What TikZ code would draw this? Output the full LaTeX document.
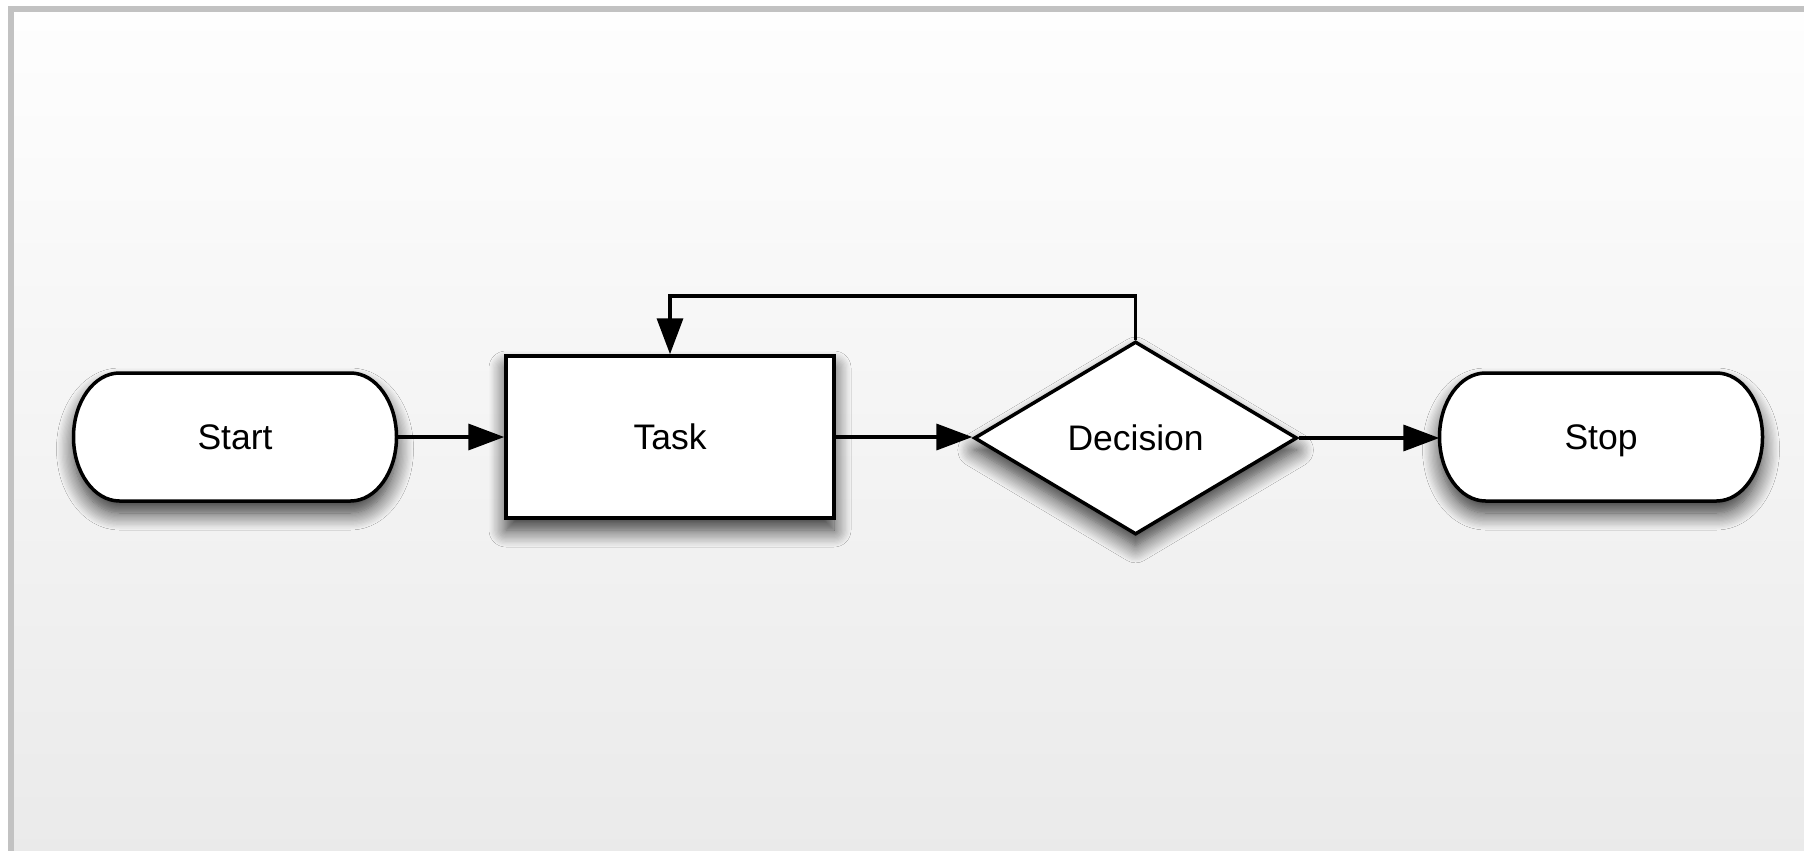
\documentclass[tikz,border=0pt]{standalone}
\usepackage{fontspec}
\setmainfont{Liberation Sans}
\usetikzlibrary{shapes.geometric,arrows.meta,shadows.blur}
\definecolor{framegray}{HTML}{C2C2C2}
\definecolor{bgtop}{HTML}{FEFEFE}
\definecolor{bgbot}{HTML}{EAEAEA}
\tikzset{
  myshadow/.style={blur shadow={shadow xshift=0pt, shadow yshift=-12pt,
     shadow blur radius=17pt, shadow blur steps=14, shadow opacity=80}},
  labeltext/.style={font=\fontsize{35.5}{40}\selectfont, text height=25.5pt, text depth=0pt},
  shapebase/.style={labeltext, draw=black, line width=3.5pt, fill=white, myshadow},
  terminal/.style={labeltext, rectangle, minimum width=323pt, minimum height=128pt, inner sep=0pt},
  termoutline/.style={draw=black, line width=3.5pt, fill=white, myshadow},
  taskbox/.style={shapebase, rectangle, minimum width=328pt, minimum height=162pt, inner sep=0pt},
  decisionbox/.style={shapebase, diamond, minimum width=323pt, minimum height=193pt, inner sep=0pt},
  conn/.style={line width=3.5pt, draw=black, opacity=1, fill opacity=1, draw opacity=1,
     -{Triangle[length=36pt,width=26pt,fill=black]}}
}
\newcommand{\termshape}[1]{%
  \path[termoutline] ([shift={(-115.5pt,64pt)}]#1) -- ([shift={(115.5pt,64pt)}]#1)
    arc[start angle=90, end angle=-90, x radius=46pt, y radius=64pt]
    -- ([shift={(-115.5pt,-64pt)}]#1)
    arc[start angle=270, end angle=90, x radius=46pt, y radius=64pt] -- cycle;}
\begin{document}
\begin{tikzpicture}[x=1pt,y=-1pt]
\useasboundingbox (0,0) rectangle (1804,851);
\fill[white] (0,0) rectangle (1804,851);
\shade[top color=bgtop, bottom color=bgbot] (11,9) rectangle (1810,860);
\draw[framegray, line width=5.5pt] (11,860) -- (11,9) -- (1810,9);

\coordinate (startC) at (235,437);
\coordinate (stopC) at (1601,437);
\termshape{startC}
\termshape{stopC}

\node[terminal] (start) at (startC) {Start};
\node[taskbox] (task) at (670,437) {Task};
\node[decisionbox] (decision) at (1135.6,438) {Decision};
\node[terminal] (stop) at (stopC) {Stop};

\coordinate (loopR) at (1135.6,296);
\coordinate (loopL) at (670,296);

\begin{scope}[opacity=1]
\draw[conn] (start.east) -- (start.east -| task.west);
\draw[conn] (task.east) -- (task.east -| decision.west);
\draw[conn] (decision.east) -- (decision.east -| stop.west);
\draw[conn] (decision.north) -- (loopR) -- (loopL) -- (task.north);
\end{scope}
\end{tikzpicture}
\end{document}
